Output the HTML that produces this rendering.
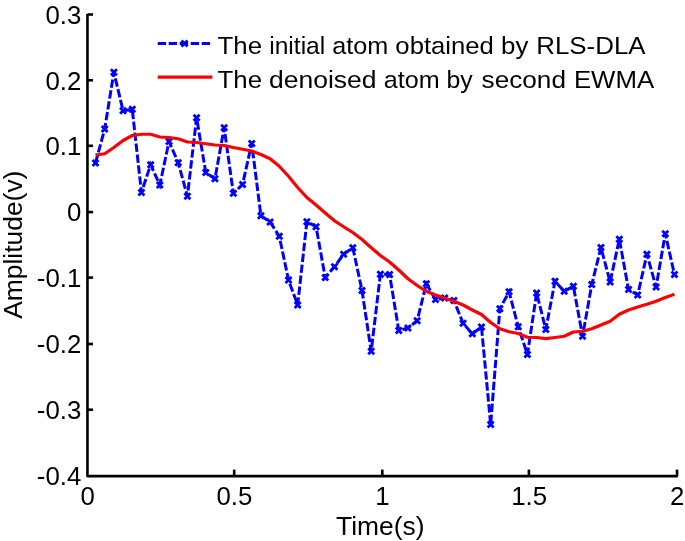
<!DOCTYPE html>
<html><head><meta charset="utf-8"><title>Atom plot</title>
<style>
html,body{margin:0;padding:0;background:#fff;}
body{width:685px;height:541px;overflow:hidden;}
svg{display:block;font-family:"Liberation Sans",Arial,Helvetica,sans-serif;}
</style></head><body>
<svg width="685" height="541" viewBox="0 0 685 541">
<rect width="685" height="541" fill="#fff"/>
<g fill="none" stroke="#000" stroke-width="2.6">
<path d="M87.45 13.90V476.10H677.85" stroke-linejoin="round"/>
<path d="M87.45 14.50H93.05"/><path d="M87.45 80.30H93.05"/><path d="M87.45 145.80H93.05"/><path d="M87.45 212.10H93.05"/><path d="M87.45 277.60H93.05"/><path d="M87.45 344.00H93.05"/><path d="M87.45 409.70H93.05"/><path d="M234.20 476.10V469.60"/><path d="M382.30 476.10V469.60"/><path d="M528.90 476.10V469.60"/><path d="M677.05 476.10V469.60"/>
</g>
<g font-size="25.2px" fill="#000">
<text x="81.3" y="23.80" text-anchor="end" textLength="35.90" lengthAdjust="spacingAndGlyphs">0.3</text><text x="81.3" y="89.60" text-anchor="end" textLength="35.90" lengthAdjust="spacingAndGlyphs">0.2</text><text x="81.3" y="155.10" text-anchor="end" textLength="35.90" lengthAdjust="spacingAndGlyphs">0.1</text><text x="81.3" y="221.40" text-anchor="end" textLength="14.36" lengthAdjust="spacingAndGlyphs">0</text><text x="81.3" y="286.90" text-anchor="end" textLength="44.51" lengthAdjust="spacingAndGlyphs">-0.1</text><text x="81.3" y="353.30" text-anchor="end" textLength="44.51" lengthAdjust="spacingAndGlyphs">-0.2</text><text x="81.3" y="419.00" text-anchor="end" textLength="44.51" lengthAdjust="spacingAndGlyphs">-0.3</text><text x="81.3" y="485.40" text-anchor="end" textLength="44.51" lengthAdjust="spacingAndGlyphs">-0.4</text><text x="87.65" y="505.2" text-anchor="middle" textLength="14.36" lengthAdjust="spacingAndGlyphs">0</text><text x="234.40" y="505.2" text-anchor="middle" textLength="35.90" lengthAdjust="spacingAndGlyphs">0.5</text><text x="382.50" y="505.2" text-anchor="middle" textLength="14.36" lengthAdjust="spacingAndGlyphs">1</text><text x="529.10" y="505.2" text-anchor="middle" textLength="35.90" lengthAdjust="spacingAndGlyphs">1.5</text><text x="677.25" y="505.2" text-anchor="middle" textLength="14.36" lengthAdjust="spacingAndGlyphs">2</text>
</g>
<text x="380.3" y="534.6" font-size="26.4px" text-anchor="middle" fill="#000">Time(s)</text>
<text transform="translate(22.3,244.7) rotate(-90)" font-size="26.4px" text-anchor="middle" fill="#000">Amplitude(v)</text>
<polyline points="95.50,163.00 104.69,129.00 113.88,72.30 123.07,110.75 132.26,109.25 141.45,192.50 150.64,164.70 159.83,185.00 169.02,141.50 178.21,162.70 187.40,196.25 196.59,117.80 205.78,172.50 214.97,178.75 224.16,127.70 233.35,193.25 242.54,184.50 251.73,143.50 260.92,215.75 270.11,222.00 279.30,236.25 288.49,280.00 297.68,305.00 306.87,221.75 316.06,226.75 325.25,277.50 334.44,266.75 343.63,254.20 352.82,247.70 362.01,290.50 371.20,351.25 380.39,274.25 389.58,274.50 398.77,330.50 407.96,328.00 417.15,320.75 426.34,283.75 435.53,299.50 444.72,298.00 453.91,300.50 463.10,323.25 472.29,333.75 481.48,327.00 490.67,424.50 499.86,308.75 509.05,291.75 518.24,326.75 527.43,354.50 536.62,293.00 545.81,329.40 555.00,281.25 564.19,291.25 573.38,286.25 582.57,336.25 591.76,284.50 600.95,247.50 610.14,282.00 619.33,239.25 628.52,289.50 637.71,295.00 646.90,254.25 656.09,287.00 665.28,233.75 674.47,274.50" fill="none" stroke="#0000ff" stroke-width="3" stroke-dasharray="8.4 2.6" stroke-linejoin="miter"/>
<g fill="none" stroke="#0000ff" stroke-width="2.8">
<path d="M92.50 160.00L98.50 166.00M92.50 166.00L98.50 160.00"/><path d="M101.69 126.00L107.69 132.00M101.69 132.00L107.69 126.00"/><path d="M110.88 69.30L116.88 75.30M110.88 75.30L116.88 69.30"/><path d="M120.07 107.75L126.07 113.75M120.07 113.75L126.07 107.75"/><path d="M129.26 106.25L135.26 112.25M129.26 112.25L135.26 106.25"/><path d="M138.45 189.50L144.45 195.50M138.45 195.50L144.45 189.50"/><path d="M147.64 161.70L153.64 167.70M147.64 167.70L153.64 161.70"/><path d="M156.83 182.00L162.83 188.00M156.83 188.00L162.83 182.00"/><path d="M166.02 138.50L172.02 144.50M166.02 144.50L172.02 138.50"/><path d="M175.21 159.70L181.21 165.70M175.21 165.70L181.21 159.70"/><path d="M184.40 193.25L190.40 199.25M184.40 199.25L190.40 193.25"/><path d="M193.59 114.80L199.59 120.80M193.59 120.80L199.59 114.80"/><path d="M202.78 169.50L208.78 175.50M202.78 175.50L208.78 169.50"/><path d="M211.97 175.75L217.97 181.75M211.97 181.75L217.97 175.75"/><path d="M221.16 124.70L227.16 130.70M221.16 130.70L227.16 124.70"/><path d="M230.35 190.25L236.35 196.25M230.35 196.25L236.35 190.25"/><path d="M239.54 181.50L245.54 187.50M239.54 187.50L245.54 181.50"/><path d="M248.73 140.50L254.73 146.50M248.73 146.50L254.73 140.50"/><path d="M257.92 212.75L263.92 218.75M257.92 218.75L263.92 212.75"/><path d="M267.11 219.00L273.11 225.00M267.11 225.00L273.11 219.00"/><path d="M276.30 233.25L282.30 239.25M276.30 239.25L282.30 233.25"/><path d="M285.49 277.00L291.49 283.00M285.49 283.00L291.49 277.00"/><path d="M294.68 302.00L300.68 308.00M294.68 308.00L300.68 302.00"/><path d="M303.87 218.75L309.87 224.75M303.87 224.75L309.87 218.75"/><path d="M313.06 223.75L319.06 229.75M313.06 229.75L319.06 223.75"/><path d="M322.25 274.50L328.25 280.50M322.25 280.50L328.25 274.50"/><path d="M331.44 263.75L337.44 269.75M331.44 269.75L337.44 263.75"/><path d="M340.63 251.20L346.63 257.20M340.63 257.20L346.63 251.20"/><path d="M349.82 244.70L355.82 250.70M349.82 250.70L355.82 244.70"/><path d="M359.01 287.50L365.01 293.50M359.01 293.50L365.01 287.50"/><path d="M368.20 348.25L374.20 354.25M368.20 354.25L374.20 348.25"/><path d="M377.39 271.25L383.39 277.25M377.39 277.25L383.39 271.25"/><path d="M386.58 271.50L392.58 277.50M386.58 277.50L392.58 271.50"/><path d="M395.77 327.50L401.77 333.50M395.77 333.50L401.77 327.50"/><path d="M404.96 325.00L410.96 331.00M404.96 331.00L410.96 325.00"/><path d="M414.15 317.75L420.15 323.75M414.15 323.75L420.15 317.75"/><path d="M423.34 280.75L429.34 286.75M423.34 286.75L429.34 280.75"/><path d="M432.53 296.50L438.53 302.50M432.53 302.50L438.53 296.50"/><path d="M441.72 295.00L447.72 301.00M441.72 301.00L447.72 295.00"/><path d="M450.91 297.50L456.91 303.50M450.91 303.50L456.91 297.50"/><path d="M460.10 320.25L466.10 326.25M460.10 326.25L466.10 320.25"/><path d="M469.29 330.75L475.29 336.75M469.29 336.75L475.29 330.75"/><path d="M478.48 324.00L484.48 330.00M478.48 330.00L484.48 324.00"/><path d="M487.67 421.50L493.67 427.50M487.67 427.50L493.67 421.50"/><path d="M496.86 305.75L502.86 311.75M496.86 311.75L502.86 305.75"/><path d="M506.05 288.75L512.05 294.75M506.05 294.75L512.05 288.75"/><path d="M515.24 323.75L521.24 329.75M515.24 329.75L521.24 323.75"/><path d="M524.43 351.50L530.43 357.50M524.43 357.50L530.43 351.50"/><path d="M533.62 290.00L539.62 296.00M533.62 296.00L539.62 290.00"/><path d="M542.81 326.40L548.81 332.40M542.81 332.40L548.81 326.40"/><path d="M552.00 278.25L558.00 284.25M552.00 284.25L558.00 278.25"/><path d="M561.19 288.25L567.19 294.25M561.19 294.25L567.19 288.25"/><path d="M570.38 283.25L576.38 289.25M570.38 289.25L576.38 283.25"/><path d="M579.57 333.25L585.57 339.25M579.57 339.25L585.57 333.25"/><path d="M588.76 281.50L594.76 287.50M588.76 287.50L594.76 281.50"/><path d="M597.95 244.50L603.95 250.50M597.95 250.50L603.95 244.50"/><path d="M607.14 279.00L613.14 285.00M607.14 285.00L613.14 279.00"/><path d="M616.33 236.25L622.33 242.25M616.33 242.25L622.33 236.25"/><path d="M625.52 286.50L631.52 292.50M625.52 292.50L631.52 286.50"/><path d="M634.71 292.00L640.71 298.00M634.71 298.00L640.71 292.00"/><path d="M643.90 251.25L649.90 257.25M643.90 257.25L649.90 251.25"/><path d="M653.09 284.00L659.09 290.00M653.09 290.00L659.09 284.00"/><path d="M662.28 230.75L668.28 236.75M662.28 236.75L668.28 230.75"/><path d="M671.47 271.50L677.47 277.50M671.47 277.50L677.47 271.50"/>
<path d="M181.50 40.40L187.50 46.40M181.50 46.40L187.50 40.40"/>
</g>
<polyline points="95.50,155.00 104.69,153.75 113.88,147.50 123.07,140.50 132.26,135.50 141.45,134.25 150.64,134.25 159.83,137.00 169.02,137.50 178.21,138.75 187.40,142.00 196.59,142.50 205.78,143.75 214.97,145.00 224.16,145.50 233.35,147.50 242.54,149.25 251.73,151.00 260.92,154.50 270.11,158.75 279.30,166.25 288.49,176.25 297.68,187.50 306.87,197.50 316.06,205.00 325.25,213.00 334.44,220.75 343.63,226.75 352.82,232.50 362.01,239.50 371.20,247.75 380.39,255.50 389.58,262.00 398.77,270.00 407.96,278.75 417.15,285.50 426.34,291.25 435.53,295.00 444.72,298.25 453.91,301.25 463.10,305.00 472.29,310.00 481.48,314.50 490.67,322.50 499.86,328.75 509.05,331.75 518.24,333.50 527.43,337.25 536.62,337.50 545.81,338.60 555.00,337.50 564.19,336.25 573.38,332.00 582.57,331.25 591.76,328.75 600.95,325.00 610.14,321.25 619.33,314.25 628.52,310.00 637.71,307.00 646.90,304.25 656.09,301.25 665.28,297.50 674.47,294.25" fill="none" stroke="#ff0000" stroke-width="3.2" stroke-linejoin="round"/>
<path d="M157.7 43.4H210.2" fill="none" stroke="#0000ff" stroke-width="3" stroke-dasharray="8.4 2.6"/>
<path d="M157.7 77.1H212.4" fill="none" stroke="#ff0000" stroke-width="3.2"/>
<g font-size="24.6px" fill="#000">
<text y="53.9"><tspan x="217.55" textLength="44.51" lengthAdjust="spacingAndGlyphs">The</tspan> <tspan x="269.20" textLength="56.05" lengthAdjust="spacingAndGlyphs">initial</tspan> <tspan x="332.18" textLength="56.06" lengthAdjust="spacingAndGlyphs">atom</tspan> <tspan x="395.36" textLength="98.48" lengthAdjust="spacingAndGlyphs">obtained</tspan> <tspan x="501.10" textLength="27.28" lengthAdjust="spacingAndGlyphs">by</tspan> <tspan x="536.19" textLength="109.37" lengthAdjust="spacingAndGlyphs">RLS-DLA</tspan></text>
<text y="87.6"><tspan x="217.55" textLength="44.51" lengthAdjust="spacingAndGlyphs">The</tspan> <tspan x="268.92" textLength="107.65" lengthAdjust="spacingAndGlyphs">denoised</tspan> <tspan x="383.78" textLength="55.85" lengthAdjust="spacingAndGlyphs">atom</tspan> <tspan x="446.58" textLength="26.20" lengthAdjust="spacingAndGlyphs">by</tspan> <tspan x="481.54" textLength="84.46" lengthAdjust="spacingAndGlyphs">second</tspan> <tspan x="573.90" textLength="80.35" lengthAdjust="spacingAndGlyphs">EWMA</tspan></text>
</g>
</svg>
</body></html>
